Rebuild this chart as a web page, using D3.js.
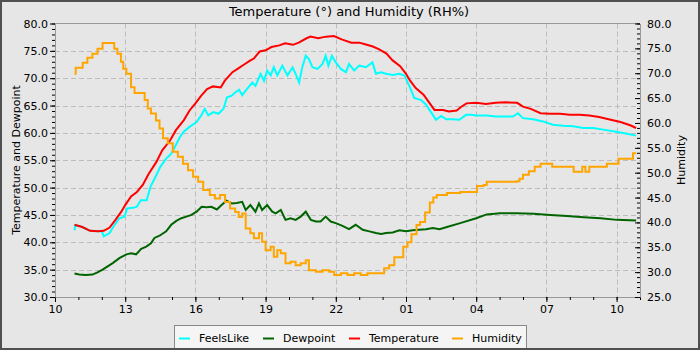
<!DOCTYPE html>
<html>
<head>
<meta charset="utf-8">
<script src="https://cdn.jsdelivr.net/npm/d3@7"></script>
<style>
  html, body { margin: 0; padding: 0; background: #e6e6e6; }
  svg { display: block; font-family: "DejaVu Sans", Verdana, sans-serif; }
</style>
</head>
<body>
<svg id="chart" width="700" height="350"></svg>
<script>
// Readings: [clock time, value]; times roll over midnight into the next day.
const feelsLike = [["10:50",42.2],["10:52",43.1],["11:10",42.8],["11:30",42.1],["11:50",42.0],["12:00",42.0],["12:05",41.1],["12:20",41.7],["12:30",42.9],["12:45",44.4],["12:58",44.7],["13:05",46.2],["13:20",46.3],["13:30",46.5],["13:40",47.7],["13:55",47.7],["14:05",50.2],["14:20",52.3],["14:30",53.8],["14:45",55.3],["14:58",56.2],["15:05",57.1],["15:20",59.2],["15:30",60.2],["15:45",61.1],["16:03",62.0],["16:15",63.2],["16:24",64.4],["16:33",63.2],["16:46",63.8],["16:59",63.5],["17:12",64.4],["17:21",66.5],["17:33",66.8],["17:42",67.4],["17:52",67.9],["18:00",66.9],["18:12",68.0],["18:26",69.2],["18:34",68.6],["18:47",70.8],["18:56",69.5],["19:04",71.4],["19:13",70.5],["19:21",72.0],["19:30",70.5],["19:43",72.3],["19:56",70.5],["20:09",72.0],["20:17",70.8],["20:26",69.2],["20:34",72.0],["20:43",74.1],["20:51",73.5],["21:00",72.0],["21:13",71.7],["21:26",72.6],["21:34",74.1],["21:41",72.3],["21:50",74.1],["22:00",72.9],["22:13",71.7],["22:26",71.1],["22:34",72.6],["22:47",71.4],["23:00",72.3],["23:17",72.0],["23:34",72.9],["23:43",70.8],["23:56",71.1],["00:09",70.8],["00:26",70.6],["00:43",70.8],["00:56",70.5],["01:09",68.5],["01:21",66.4],["01:39",66.0],["01:51",65.2],["02:04",63.8],["02:17",62.4],["02:30",63.1],["02:43",62.5],["03:00",62.5],["03:17",62.4],["03:34",63.3],["03:47",63.3],["04:00",63.2],["04:26",63.2],["04:51",63.0],["05:17",63.0],["05:34",63.0],["05:47",63.6],["06:00",62.7],["06:26",62.5],["06:51",62.1],["07:17",61.5],["07:43",61.3],["08:09",61.2],["08:34",60.9],["09:00",60.9],["09:26",60.6],["09:51",60.3],["10:17",60.0],["10:50",59.5]];

const dewpoint = [["10:50",34.3],["11:02",34.1],["11:19",34.0],["11:36",34.1],["11:49",34.5],["12:02",35.0],["12:15",35.6],["12:28",36.2],["12:45",37.1],["13:03",37.8],["13:15",38.0],["13:28",37.8],["13:41",38.8],["13:54",39.2],["14:06",39.8],["14:15",40.8],["14:28",41.2],["14:45",42.0],["14:58",43.2],["15:11",43.9],["15:24",44.4],["15:37",44.7],["15:50",45.0],["16:03",45.6],["16:16",46.5],["16:29",46.4],["16:41",46.5],["16:55",46.0],["17:07",46.8],["17:20",47.6],["17:33",47.1],["17:46",47.2],["18:00",47.4],["18:09",45.9],["18:21",46.8],["18:34",45.6],["18:43",47.1],["18:51",45.9],["19:04",46.8],["19:17",45.6],["19:26",45.3],["19:39",45.9],["19:51",44.1],["20:04",44.4],["20:17",44.1],["20:30",44.7],["20:43",45.6],["20:56",44.1],["21:09",43.8],["21:21",43.8],["21:34",44.7],["21:47",43.8],["22:00",43.5],["22:17",43.0],["22:34",42.4],["22:51",43.2],["23:09",42.3],["23:26",42.0],["23:43",41.7],["23:56",41.5],["00:09",41.7],["00:26",41.8],["00:43",42.2],["01:00",42.0],["01:17",42.2],["01:34",42.3],["01:51",42.4],["02:09",42.6],["02:26",42.4],["02:45",42.8],["03:19",43.5],["04:00",44.4],["04:27",45.1],["05:01",45.3],["05:44",45.3],["06:27",45.2],["07:10",45.0],["07:53",44.8],["08:36",44.6],["09:19",44.4],["10:01",44.1],["10:50",44.0]];

const temperature = [["10:50",43.2],["11:10",42.8],["11:30",42.1],["11:50",42.0],["12:05",42.1],["12:20",42.7],["12:35",44.1],["12:50",45.6],["13:00",46.8],["13:15",48.4],["13:30",49.2],["13:45",50.5],["14:00",52.5],["14:20",54.7],["14:35",56.8],["14:55",58.6],["15:10",60.5],["15:30",62.3],["15:45",64.1],["16:00",65.4],["16:15",66.8],["16:30",68.0],["16:45",68.5],["17:05",68.3],["17:15",69.5],["17:35",71.1],["17:50",71.8],["18:05",72.5],["18:20",73.2],["18:30",73.6],["18:45",74.9],["19:00",75.1],["19:15",75.7],["19:35",76.0],["19:50",76.4],["20:10",76.1],["20:25",76.5],["20:45",77.3],["20:55",77.6],["21:15",77.3],["21:35",77.6],["21:55",77.7],["22:15",77.1],["22:40",76.5],["23:00",76.5],["23:15",76.2],["23:35",75.8],["23:50",75.3],["00:10",74.5],["00:25",73.3],["00:45",72.2],["01:00",70.8],["01:10",69.6],["01:25",68.2],["01:45",67.0],["02:00",65.5],["02:13",64.2],["02:35",64.2],["02:50",63.9],["03:10",64.1],["03:20",64.7],["03:35",65.4],["04:00",65.5],["04:25",65.3],["04:50",65.5],["05:15",65.6],["05:45",65.5],["06:00",64.8],["06:20",64.4],["06:45",63.6],["07:10",63.5],["07:35",63.5],["08:00",63.3],["08:25",63.3],["08:50",63.2],["09:15",62.9],["09:45",62.4],["10:10",62.0],["10:35",61.4],["10:50",60.9]];

const humidity = [["10:50",69.9],["10:53",71.1],["11:06",71.1],["11:11",72.1],["11:23",73.1],["11:36",73.9],["11:49",74.9],["12:02",76.1],["12:24",76.1],["12:32",74.9],["12:40",73.9],["12:49",72.3],["12:55",70.9],["13:03",69.9],["13:15",67.2],["13:24",66.0],["13:41",66.0],["13:50",64.6],["13:58",62.9],["14:06",61.9],["14:19",60.5],["14:28",58.9],["14:37",56.9],["14:49",55.9],["15:02",54.2],["15:15",53.2],["15:28",51.8],["15:41",50.5],["15:54",49.2],["16:07",48.2],["16:20",46.5],["16:37",45.5],["16:50",44.8],["17:03",45.5],["17:16",44.1],["17:29",42.8],["17:42",42.1],["17:51",41.1],["18:00",41.8],["18:09",38.8],["18:21",37.8],["18:30",36.8],["18:43",37.8],["18:51",36.1],["19:00",34.4],["19:13",35.1],["19:21",33.1],["19:30",34.4],["19:39",33.8],["19:51",31.8],["20:04",32.1],["20:17",31.4],["20:30",31.8],["20:43",32.4],["20:51",30.4],["21:09",30.1],["21:26",30.4],["21:43",30.1],["21:56",29.4],["22:13",29.8],["22:30",29.4],["22:47",29.8],["23:04",29.4],["23:21",29.8],["23:39",29.8],["23:51",29.8],["00:04",30.8],["00:17",31.4],["00:30",33.0],["00:43",33.0],["00:53",35.1],["01:04",36.0],["01:14",37.6],["01:27",39.5],["01:36",40.1],["01:49",42.0],["02:01",44.0],["02:10",45.0],["02:19",45.5],["02:45",45.9],["03:19",46.1],["03:53",46.1],["04:02",47.3],["04:19",47.5],["04:27",48.2],["05:44",48.3],["05:51",48.8],["06:00",49.6],["06:15",50.3],["06:30",51.2],["06:45",51.8],["07:00",51.8],["07:15",51.2],["08:00",51.2],["08:10",50.2],["08:25",50.2],["08:32",51.2],["08:40",50.2],["08:50",51.2],["09:20",51.2],["09:35",51.8],["10:05",52.8],["10:35",52.8],["10:42",53.9],["10:50",53.9]];

const leftTicks = [30, 35, 40, 45, 50, 55, 60, 65, 70, 75, 80];
const rightTicks = [25, 30, 35, 40, 45, 50, 55, 60, 65, 70, 75, 80];
const hourLabels = ["10", "13", "16", "19", "22", "01", "04", "07", "10"];

const seriesList = [
  { name: "FeelsLike",   data: feelsLike,   axis: "left",  color: "#00ffff", curve: d3.curveLinear },
  { name: "Dewpoint",    data: dewpoint,    axis: "left",  color: "#006400", curve: d3.curveLinear },
  { name: "Temperature", data: temperature, axis: "left",  color: "#ff0000", curve: d3.curveLinear },
  { name: "Humidity",    data: humidity,    axis: "right", color: "#ffa500", curve: d3.curveStepAfter }
];

const day0 = new Date(2024, 0, 1);
const start = d3.timeHour.offset(day0, 10);
const end = d3.timeHour.offset(day0, 35);

// turn clock strings into dates, stepping to the next day after midnight
function toSeries(rows) {
  let day = 0, prev = -1;
  return rows.map(([t, v]) => {
    const [h, m] = t.split(":").map(Number);
    const mins = h * 60 + m;
    if (mins < prev) day += 1;
    prev = mins;
    return { date: d3.timeMinute.offset(day0, day * 1440 + mins), value: v };
  });
}

const svg = d3.select("#chart");
const W = 700, H = 350;
const L = 55, R = 640, T = 23.5, B = 297;

svg.append("rect").attr("x", 1).attr("y", 1).attr("width", W - 2).attr("height", H - 2)
  .attr("fill", "#e6e6e6").attr("stroke", "#505050").attr("stroke-width", 2);

const x = d3.scaleTime().domain([start, end]).range([L, R]);
const yL = d3.scaleLinear().domain([30, 80]).range([B, T]);
const yR = d3.scaleLinear().domain([25, 80]).range([B, T]);

// labelled hours every three hours from the start, plus every hour for minor ticks
const majorHours = hourLabels.map((_, i) => d3.timeHour.offset(start, i * 3));
const minorHours = d3.range(0, 26).map(i => d3.timeHour.offset(start, i));

// grid
const grid = svg.append("g").attr("stroke", "#bcbcbc").attr("stroke-dasharray", "5,3").attr("stroke-width", 1);
grid.selectAll("line.v").data(majorHours.slice(1))
  .join("line").attr("class", "v")
  .attr("x1", d => Math.round(x(d)) + 0.5).attr("x2", d => Math.round(x(d)) + 0.5)
  .attr("y1", T).attr("y2", B);
grid.selectAll("line.h").data(leftTicks.slice(1, -1))
  .join("line").attr("class", "h")
  .attr("x1", L).attr("x2", R)
  .attr("y1", d => Math.round(yL(d)) + 0.5).attr("y2", d => Math.round(yL(d)) + 0.5);

// frame top
svg.append("line").attr("x1", L).attr("x2", R).attr("y1", T).attr("y2", T)
  .attr("stroke", "#999");

function styleAxis(g) {
  g.select(".domain").attr("stroke", "#999");
  g.selectAll(".tick line").attr("stroke", "#000");
  g.selectAll(".tick text").attr("fill", "#000").attr("font-size", 11)
    .attr("font-family", "DejaVu Sans, Verdana, sans-serif");
}

// x axis
const gx = svg.append("g").attr("transform", `translate(0,${B})`);
gx.append("g").call(d3.axisBottom(x).tickValues(minorHours).tickSize(3).tickSizeOuter(0).tickFormat(""))
  .call(styleAxis);
gx.append("g").call(d3.axisBottom(x).tickValues(majorHours).tickSize(5).tickPadding(3)
  .tickFormat((d, i) => hourLabels[i]))
  .call(styleAxis).call(g => g.select(".domain").remove());

// left axis
const gl = svg.append("g").attr("transform", `translate(${L},0)`);
gl.append("g").call(d3.axisLeft(yL).tickValues(d3.range(30, 80.5, 1)).tickSize(3).tickSizeOuter(0).tickFormat(""))
  .call(styleAxis);
gl.append("g").call(d3.axisLeft(yL).tickValues(leftTicks).tickSize(5).tickPadding(2)
  .tickFormat(d3.format(".1f")))
  .call(styleAxis).call(g => g.select(".domain").remove());

// right axis, ticks pointing inward
const gr = svg.append("g").attr("transform", `translate(${R},0)`);
gr.append("g").call(d3.axisRight(yR).tickValues(d3.range(25, 80.5, 1)).tickSizeInner(-3).tickSizeOuter(0).tickFormat(""))
  .call(styleAxis);
gr.append("g").call(d3.axisRight(yR).tickValues(rightTicks).tickSizeInner(-5).tickSizeOuter(0).tickPadding(7)
  .tickFormat(d3.format(".1f")))
  .call(styleAxis).call(g => g.select(".domain").remove());

// series lines
const plot = svg.append("g");
seriesList.forEach(s => {
  const y = s.axis === "left" ? yL : yR;
  const line = d3.line().x(d => x(d.date)).y(d => y(d.value)).curve(s.curve);
  plot.append("path").datum(toSeries(s.data))
    .attr("fill", "none").attr("stroke", s.color).attr("stroke-width", 2)
    .attr("stroke-linejoin", "miter").attr("d", line);
});

// titles
svg.append("text").attr("x", 349).attr("y", 15.5).attr("text-anchor", "middle")
  .attr("font-size", 13).attr("fill", "#000").text("Temperature (°) and Humidity (RH%)");
svg.append("text").attr("transform", "translate(20,160) rotate(-90)").attr("text-anchor", "middle")
  .attr("font-size", 11).attr("fill", "#000").text("Temperature and Dewpoint");
svg.append("text").attr("transform", "translate(685,160) rotate(-90)").attr("text-anchor", "middle")
  .attr("font-size", 11).attr("fill", "#000").text("Humidity");

// legend
const lg = svg.append("g");
lg.append("rect").attr("x", 174.5).attr("y", 325.5).attr("width", 352).attr("height", 24)
  .attr("fill", "#f5f5f5").attr("stroke", "#888");
const legendX = [179, 263, 349, 452];
seriesList.forEach((s, i) => {
  lg.append("line").attr("x1", legendX[i]).attr("x2", legendX[i] + 11)
    .attr("y1", 338.5).attr("y2", 338.5).attr("stroke", s.color).attr("stroke-width", 2);
  lg.append("text").attr("x", legendX[i] + 20).attr("y", 341.5)
    .attr("font-size", 11).attr("fill", "#000").text(s.name);
});
// outer frame drawn last so it sits over the legend edge
svg.append("rect").attr("x", 1).attr("y", 1).attr("width", W - 2).attr("height", H - 2)
  .attr("fill", "none").attr("stroke", "#505050").attr("stroke-width", 2);
</script>
</body>
</html>
